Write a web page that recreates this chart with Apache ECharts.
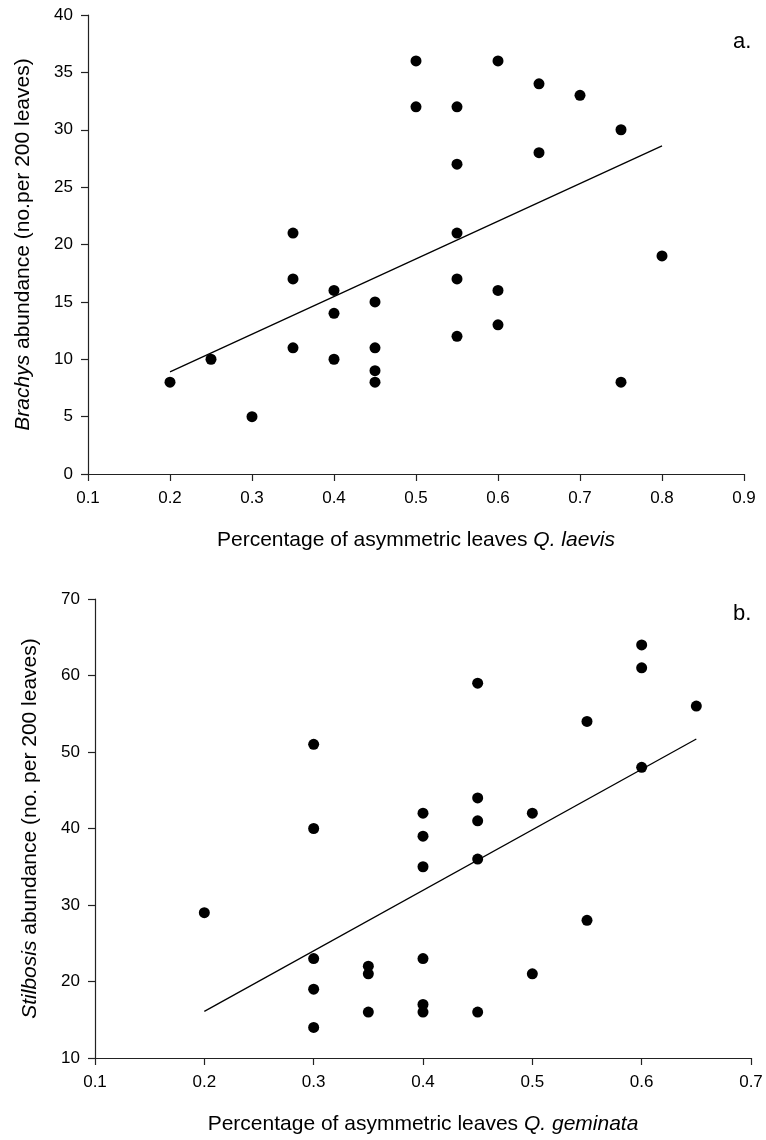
<!DOCTYPE html>
<html>
<head>
<meta charset="utf-8">
<script src="https://cdn.jsdelivr.net/npm/echarts@6/dist/echarts.min.js"></script>
<style>
  html, body { margin: 0; padding: 0; background: #fff; }
  #myChart { width: 766px; height: 1140px; }
</style>
</head>
<body>
<div id="myChart"></div>
<script>
// panel a: Q. laevis vs Brachys
const laevisX = [0.2, 0.25, 0.3, 0.35, 0.35, 0.35, 0.4, 0.4, 0.4, 0.45, 0.45, 0.45, 0.45,
  0.5, 0.5, 0.55, 0.55, 0.55, 0.55, 0.55, 0.6, 0.6, 0.6, 0.65, 0.65, 0.7, 0.75, 0.75, 0.8];
const brachysY = [8, 10, 5, 21, 17, 11, 16, 14, 10, 15, 11, 9, 8,
  36, 32, 32, 27, 21, 17, 12, 36, 16, 13, 34, 28, 33, 30, 8, 19];
const fitAX = [0.2, 0.8];
const fitAY = [8.9, 28.6];

// panel b: Q. geminata vs Stilbosis
const geminataX = [0.2, 0.3, 0.3, 0.3, 0.3, 0.3, 0.35, 0.35, 0.35,
  0.4, 0.4, 0.4, 0.4, 0.4, 0.4, 0.45, 0.45, 0.45, 0.45, 0.45,
  0.5, 0.5, 0.55, 0.55, 0.6, 0.6, 0.6, 0.65];
const stilbosisY = [29, 51, 40, 23, 19, 14, 22, 21, 16,
  42, 39, 35, 23, 17, 16, 59, 44, 41, 36, 16,
  42, 21, 54, 28, 64, 61, 48, 56];
const fitBX = [0.2, 0.65];
const fitBY = [16.1, 51.7];

const font = "'Liberation Sans', Arial, sans-serif";
const ink = '#000';

function pairs(xs, ys) {
  return xs.map((x, i) => [x, ys[i]]);
}

function nameStyle() {
  return {
    fontFamily: font, fontSize: 21, color: ink,
    rich: { i: { fontFamily: font, fontSize: 21, fontStyle: 'italic', color: ink } }
  };
}

function xAxisCfg(gridIndex, min, max, name) {
  return {
    type: 'value', gridIndex: gridIndex, min: min, max: max, interval: 0.1,
    name: name, nameLocation: 'middle', nameGap: 56,
    nameTextStyle: nameStyle(),
    axisLine: { show: true, onZero: false, lineStyle: { color: '#222', width: 1.2 } },
    axisTick: { show: true, inside: false, length: 7, lineStyle: { color: '#222', width: 1.2 } },
    axisLabel: { fontFamily: font, fontSize: 17, color: ink, margin: 16,
      formatter: v => v.toFixed(1) },
    splitLine: { show: false }
  };
}

function yAxisCfg(gridIndex, min, max, interval, name) {
  return {
    type: 'value', gridIndex: gridIndex, min: min, max: max, interval: interval,
    name: name, nameLocation: 'middle', nameGap: 54,
    nameTextStyle: nameStyle(),
    axisLine: { show: true, onZero: false, lineStyle: { color: '#222', width: 1.2 } },
    axisTick: { show: true, inside: false, length: 7, lineStyle: { color: '#222', width: 1.2 } },
    axisLabel: { fontFamily: font, fontSize: 17, color: ink, margin: 15 },
    splitLine: { show: false }
  };
}

var myChart = echarts.init(document.getElementById('myChart'));
myChart.setOption({
  animation: false,
  backgroundColor: '#fff',
  title: [
    { text: 'a.', left: 728, top: 26, textStyle: { fontFamily: font, fontSize: 22, fontWeight: 'normal', color: ink } },
    { text: 'b.', left: 728, top: 598, textStyle: { fontFamily: font, fontSize: 22, fontWeight: 'normal', color: ink } }
  ],
  grid: [
    { left: 88, right: 22, top: 15, height: 459 },
    { left: 95, right: 15, top: 599, height: 459 }
  ],
  xAxis: [
    xAxisCfg(0, 0.1, 0.9, 'Percentage of asymmetric leaves {i|Q. laevis}'),
    xAxisCfg(1, 0.1, 0.7, 'Percentage of asymmetric leaves {i|Q. geminata}')
  ],
  yAxis: [
    yAxisCfg(0, 0, 40, 5, '{i|Brachys} abundance (no.per 200 leaves)'),
    yAxisCfg(1, 10, 70, 10, '{i|Stilbosis} abundance (no. per 200 leaves)')
  ],
  series: [
    {
      type: 'scatter', xAxisIndex: 0, yAxisIndex: 0,
      symbolSize: 11, itemStyle: { color: ink, opacity: 1 },
      data: pairs(laevisX, brachysY)
    },
    {
      type: 'line', xAxisIndex: 0, yAxisIndex: 0,
      symbol: 'none', lineStyle: { color: ink, width: 1.3 },
      data: pairs(fitAX, fitAY)
    },
    {
      type: 'scatter', xAxisIndex: 1, yAxisIndex: 1,
      symbolSize: 11, itemStyle: { color: ink, opacity: 1 },
      data: pairs(geminataX, stilbosisY)
    },
    {
      type: 'line', xAxisIndex: 1, yAxisIndex: 1,
      symbol: 'none', lineStyle: { color: ink, width: 1.3 },
      data: pairs(fitBX, fitBY)
    }
  ]
});
</script>
</body>
</html>
